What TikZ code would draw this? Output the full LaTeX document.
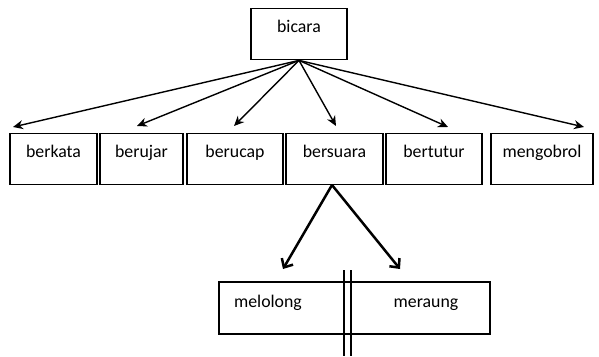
\documentclass[tikz,border=0pt]{standalone}
\usepackage{fontspec}
\setmainfont{Carlito}
\usetikzlibrary{arrows.meta}
\begin{document}
\begin{tikzpicture}[x=1pt,y=-1pt,
  box/.style={draw, line width=1.4pt, inner sep=0pt, text height=24pt, text depth=27pt,
    font=\fontsize{17.8}{20}\selectfont},
  lbl/.style={inner sep=0pt, anchor=base, font=\fontsize{17.8}{20}\selectfont},
  thin arrow/.style={line width=1.4pt, -{Stealth[length=10pt,width=9pt]}},
  thick arrow/.style={line width=2.5pt, -{Straight Barb[length=7pt,width=13pt,line width=2.5pt]}}]
\useasboundingbox (0,0) rectangle (599,356);
% top node
\node[box, minimum width=96pt, anchor=north] (bicara) at (299,8) {bicara};
% second row
\node[box, minimum width=87pt, anchor=north] (berkata) at (53.5,133) {berkata};
\node[box, minimum width=83pt, anchor=north] (berujar) at (141.5,133) {berujar};
\node[box, minimum width=96pt, anchor=north] (berucap) at (235,133) {berucap};
\node[box, minimum width=97pt, anchor=north] (bersuara) at (334.5,133) {bersuara};
\node[box, minimum width=96pt, anchor=north] (bertutur) at (434,133) {bertutur};
\node[box, minimum width=102pt, anchor=north] (mengobrol) at (542,133) {mengobrol};
% arrow tips
\coordinate (t1) at (13,127);
\coordinate (t2) at (137,126);
\coordinate (t3) at (234,126);
\coordinate (t4) at (336,126);
\coordinate (t5) at (448,127);
\coordinate (t6) at (584,127);
\foreach \t in {t1,t2,t3,t4,t5,t6}
  \draw[thin arrow] (bicara.south) -- (\t);
% lower box
\node[draw, line width=1.4pt, minimum width=271pt, minimum height=52pt, inner sep=0pt] (pair) at (354.5,308) {};
\node[lbl] (melolong) at (268,307) {melolong};
\node[lbl] (meraung) at (426,307) {meraung};
\coordinate (lt) at (283,269);
\coordinate (rt) at (400,269);
\coordinate (bs) at (332,185);
\draw[thick arrow] (bs) -- (lt);
\draw[thick arrow] (bs) -- (rt);
% double vertical line
\coordinate (d1a) at (344,270);
\coordinate (d1b) at (344,356);
\coordinate (d2a) at (351,270);
\coordinate (d2b) at (351,356);
\draw[line width=1.3pt] (d1a) -- (d1b);
\draw[line width=1.3pt] (d2a) -- (d2b);
\end{tikzpicture}
\end{document}
